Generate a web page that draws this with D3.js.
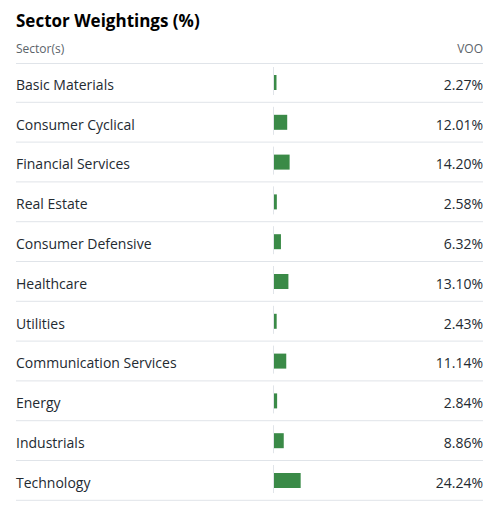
<!DOCTYPE html>
<html>
<head>
<meta charset="utf-8">
<script src="https://cdn.jsdelivr.net/npm/d3@7"></script>
<style>
  body { margin: 0; background: #fff; font-family: "Open Sans", sans-serif; }
</style>
</head>
<body>
<div id="sector-chart"></div>
<script>
const sectors = ["Basic Materials", "Consumer Cyclical", "Financial Services", "Real Estate",
    "Consumer Defensive", "Healthcare", "Utilities", "Communication Services",
    "Energy", "Industrials", "Technology"];
const weights = [2.27, 12.01, 14.20, 2.58, 6.32, 13.10, 2.43, 11.14, 2.84, 8.86, 24.24];
const seriesName = "VOO";

const width = 500, height = 531;
const left = 16, right = 483;
const headerBottom = 63;
const rowHeight = 39.8;

const svg = d3.select("#sector-chart")
    .append("svg")
    .attr("width", width)
    .attr("height", height);

svg.append("text")
    .attr("x", left)
    .attr("y", 27)
    .attr("fill", "#000")
    .style("font-size", "17px")
    .style("font-weight", "bold")
    .text("Sector Weightings (%)");

svg.append("text")
    .attr("x", left)
    .attr("y", 52.5)
    .attr("fill", "#5b636a")
    .style("font-size", "12px")
    .text("Sector(s)");

svg.append("text")
    .attr("x", right)
    .attr("y", 52.5)
    .attr("text-anchor", "end")
    .attr("fill", "#5b636a")
    .style("font-size", "12px")
    .text(seriesName);

const y = d3.scaleBand()
    .domain(sectors)
    .range([headerBottom, headerBottom + rowHeight * sectors.length]);

const x = d3.scaleLinear()
    .domain([0, 100])
    .range([274, 384]);

// divider under header
svg.append("line")
    .attr("x1", left).attr("x2", right)
    .attr("y1", headerBottom + 0.5).attr("y2", headerBottom + 0.5)
    .attr("stroke", "#e0e4e9");

const rows = svg.selectAll(".row")
    .data(sectors.map((s, i) => ({ sector: s, value: weights[i] })))
    .join("g")
    .attr("class", "row")
    .attr("transform", d => `translate(0, ${y(d.sector)})`);

rows.append("line")
    .attr("x1", left).attr("x2", right)
    .attr("y1", rowHeight - 0.5).attr("y2", rowHeight - 0.5)
    .attr("stroke", "#e0e4e9");

rows.append("text")
    .attr("x", left)
    .attr("y", rowHeight / 2 + 7)
    .attr("fill", "#232a31")
    .style("font-size", "14px")
    .text(d => d.sector);

rows.append("line")
    .attr("x1", x(0) - 0.5).attr("x2", x(0) - 0.5)
    .attr("y1", 4).attr("y2", 32)
    .attr("stroke", "#e0e4e9");

rows.append("rect")
    .attr("x", x(0))
    .attr("y", 12)
    .attr("width", d => x(d.value) - x(0))
    .attr("height", 15)
    .attr("fill", "#3a8a47");

rows.append("text")
    .attr("x", right)
    .attr("y", rowHeight / 2 + 7)
    .attr("text-anchor", "end")
    .attr("fill", "#232a31")
    .style("font-size", "14px")
    .text(d => d.value.toFixed(2) + "%");
</script>
</body>
</html>
